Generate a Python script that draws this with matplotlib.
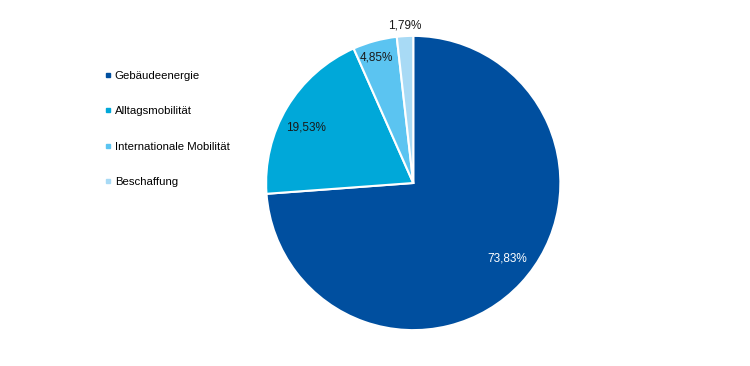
import matplotlib.pyplot as plt
import numpy as np
from matplotlib.lines import Line2D

categories = ["Gebäudeenergie", "Alltagsmobilität", "Internationale Mobilität", "Beschaffung"]
shares = [73.83, 19.53, 4.85, 1.79]
share_labels = ["73,83%", "19,53%", "4,85%", "1,79%"]
colors = ["#004F9F", "#00A8D9", "#5BC4F1", "#A8DAF5"]
label_colors = ["white", "#1a1a1a", "#1a1a1a", "#1a1a1a"]
# label placement relative to wedge middle (radius fraction, angle nudge in deg)
label_dist = [0.82, 0.82, 0.89, 1.07]
label_nudge = [4.0, 3.5, 1.0, 0.0]

plt.rcParams["font.family"] = ["Liberation Sans", "DejaVu Sans"]

fig = plt.figure(figsize=(7.5, 3.66), dpi=100)
r_h = 0.402
ax = fig.add_axes([0.551 - r_h * 3.66 / 7.5, 0.5 - r_h, 2 * r_h * 3.66 / 7.5, 2 * r_h])

wedges, _ = ax.pie(
    shares,
    colors=colors,
    startangle=90,
    counterclock=False,
    radius=1.0,
    wedgeprops=dict(edgecolor="white", linewidth=1.5),
)
ax.set_xlim(-1.0, 1.0)
ax.set_ylim(-1.0, 1.0)
ax.set_aspect("equal")

for w, txt, c, d, nudge in zip(wedges, share_labels, label_colors, label_dist, label_nudge):
    mid = np.deg2rad((w.theta1 + w.theta2) / 2 + nudge)
    ax.text(d * np.cos(mid), d * np.sin(mid), txt, ha="center", va="center",
            fontsize=8.5, color=c)

handles = [Line2D([], [], linestyle="none", marker="s", markersize=3.2,
                  markerfacecolor=c, markeredgecolor=c) for c in colors]
fig.legend(handles, categories, loc="upper left", bbox_to_anchor=(0.141, 0.806),
           frameon=False, fontsize=8.2, labelspacing=2.22, handlelength=0.45,
           handletextpad=0.35, borderpad=0, borderaxespad=0)

fig.savefig("out.png", dpi=100)
